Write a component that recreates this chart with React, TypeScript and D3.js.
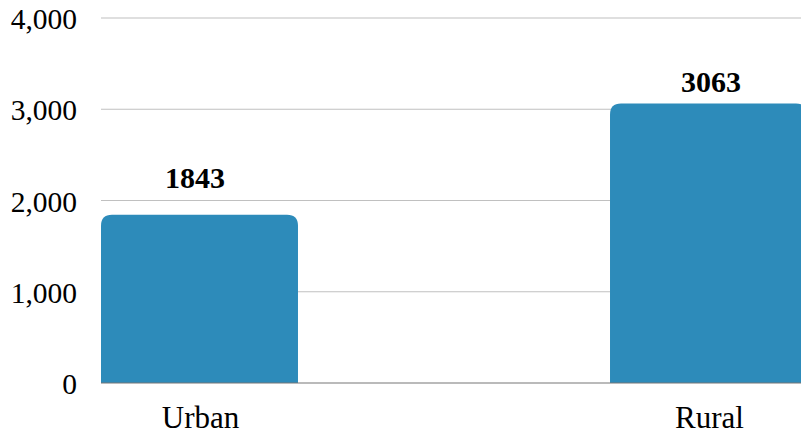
import React, { useEffect, useRef } from 'react';
import * as d3 from 'd3';

const categories = ['Urban', 'Rural'];
const values = [1843, 3063];
const yTicks = [0, 1000, 2000, 3000, 4000];

const WIDTH = 801;
const HEIGHT = 435;

export default function App() {
  const ref = useRef<SVGSVGElement>(null);

  useEffect(() => {
    const svg = d3.select(ref.current);
    svg.selectAll('*').remove();

    const font = '"Liberation Serif", "Times New Roman", serif';
    const x = d3
      .scaleBand<string>()
      .domain(categories)
      .range([101, 807])
      .paddingInner(0.613)
      .paddingOuter(0);
    const y = d3.scaleLinear().domain([0, 4000]).range([383, 18]);

    // value labels sit on their own scales in the source chart
    const labelX = d3.scalePoint<string>().domain(categories).range([195, 711]);
    const labelY = d3.scaleLinear().domain([0, 4000]).range([334.3, 17.5]);

    // gridlines
    svg
      .append('g')
      .selectAll('line')
      .data(yTicks.filter((d) => d > 0))
      .enter()
      .append('line')
      .attr('x1', 101)
      .attr('x2', WIDTH)
      .attr('y1', (d) => y(d))
      .attr('y2', (d) => y(d))
      .attr('stroke', '#c0c0c0')
      .attr('stroke-width', 1.2);

    // tick labels
    svg
      .append('g')
      .selectAll('text')
      .data(yTicks)
      .enter()
      .append('text')
      .attr('x', 77)
      .attr('y', (d) => y(d) + 11)
      .attr('text-anchor', 'end')
      .attr('font-family', font)
      .attr('font-size', 29.5)
      .attr('fill', '#000')
      .text((d) => d3.format(',')(d));

    // bars with rounded tops
    const r = 11;
    const data = categories.map((c, i) => ({ c, v: values[i] }));
    svg
      .append('g')
      .selectAll('path')
      .data(data)
      .enter()
      .append('path')
      .attr('fill', '#2d8bba')
      .attr('d', (d) => {
        const x0 = x(d.c)!;
        const x1 = x0 + x.bandwidth();
        const y0 = y(0);
        const y1 = y(d.v);
        return `M${x0},${y0}V${y1 + r}Q${x0},${y1} ${x0 + r},${y1}H${x1 - r}Q${x1},${y1} ${x1},${y1 + r}V${y0}Z`;
      });

    // baseline
    svg
      .append('line')
      .attr('x1', 101)
      .attr('x2', WIDTH)
      .attr('y1', y(0))
      .attr('y2', y(0))
      .attr('stroke', '#777')
      .attr('stroke-width', 1.2);

    // value labels
    svg
      .append('g')
      .selectAll('text')
      .data(data)
      .enter()
      .append('text')
      .attr('x', (d) => labelX(d.c)!)
      .attr('y', (d) => labelY(d.v))
      .attr('text-anchor', 'middle')
      .attr('font-family', font)
      .attr('font-weight', 'bold')
      .attr('font-size', 30)
      .attr('fill', '#000')
      .text((d) => String(d.v));

    // category labels
    svg
      .append('g')
      .selectAll('text')
      .data(categories)
      .enter()
      .append('text')
      .attr('x', (d) => x(d)! + x.bandwidth() / 2 + 1)
      .attr('y', 428)
      .attr('text-anchor', 'middle')
      .attr('font-family', font)
      .attr('font-size', 31)
      .attr('fill', '#000')
      .text((d) => d);
  }, []);

  return (
    <svg
      ref={ref}
      width={WIDTH}
      height={HEIGHT}
      style={{ position: 'absolute', left: 0, top: 0, background: '#fff' }}
    />
  );
}
